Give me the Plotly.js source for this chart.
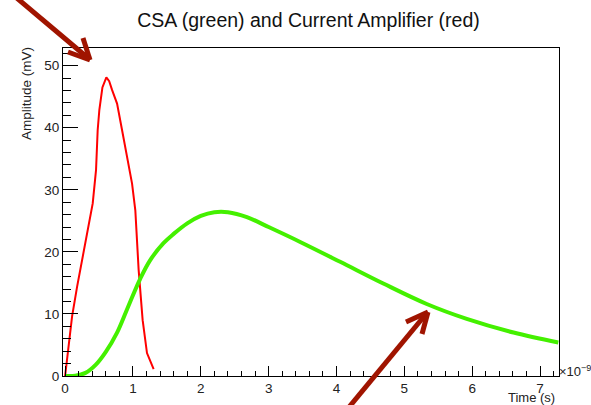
<!DOCTYPE html>
<html>
<head>
<meta charset="utf-8">
<script src="https://cdn.plot.ly/plotly-3.0.1.min.js"></script>
<style>html,body{margin:0;padding:0;background:#fff;}#chart{width:591px;height:405px;}</style>
</head>
<body>
<div id="chart"></div>
<script>
// Time in units of 1e-9 s, amplitude in mV
const redTime = [0.0, 0.053, 0.103, 0.177, 0.25, 0.324, 0.373, 0.407, 0.456, 0.48, 0.505, 0.55, 0.608, 0.65, 0.692, 0.766, 0.84, 0.913, 0.987, 1.035, 1.084, 1.143, 1.207, 1.305];
const redAmp  = [0.0, 4.7, 9.6, 14.4, 18.7, 23.0, 25.4, 27.8, 33.2, 39.6, 42.9, 46.5, 48.1, 47.5, 46.1, 43.9, 39.6, 35.3, 31.0, 26.7, 17.1, 9.0, 3.7, 1.1];
const greenTime = [0.0, 0.15, 0.3, 0.45, 0.6, 0.766, 0.9, 1.0, 1.1, 1.25, 1.45, 1.6, 1.8, 2.0, 2.2, 2.4, 2.68, 3.0, 3.465, 4.054, 4.69, 5.33, 5.92, 6.61, 7.27];
const greenAmp  = [0.0, 0.05, 0.5, 1.8, 3.9, 7.0, 10.4, 13.0, 15.5, 18.6, 21.4, 22.9, 24.6, 25.8, 26.4, 26.4, 25.6, 24.0, 21.6, 18.4, 14.9, 11.6, 9.2, 7.0, 5.4];
const xTickVals = [0, 1, 2, 3, 4, 5, 6, 7];
const yTickVals = [0, 10, 20, 30, 40, 50];

const W = 591, H = 405;
const M = {l: 63, r: 32, t: 48, b: 29};
const pw = W - M.l - M.r, ph = H - M.t - M.b;
function px(x){ return (x - M.l) / pw; }
function py(y){ return (H - M.b - y) / ph; }
function seg(x1,y1,x2,y2){ return 'M' + px(x1) + ',' + py(y1) + ' L' + px(x2) + ',' + py(y2); }
const arrowColor = '#a01400';
function arrowShape(path){ return {type:'path', xref:'paper', yref:'paper', path:path, line:{color:arrowColor, width:5}, layer:'above'}; }

const font = 'Liberation Sans, Arial, Helvetica, sans-serif';

const traces = [
  {x: redTime, y: redAmp, type:'scatter', mode:'lines', line:{color:'#ff0000', width:2}, hoverinfo:'skip'},
  {x: greenTime, y: greenAmp, type:'scatter', mode:'lines', line:{color:'#44f000', width:4, shape:'spline', smoothing:1}, hoverinfo:'skip'}
];

const layout = {
  width: W, height: H,
  margin: M,
  paper_bgcolor:'#ffffff', plot_bgcolor:'#ffffff',
  showlegend:false,
  font:{family:font, color:'#222', size:13},
  title:{text:'CSA (green) and Current Amplifier (red)', x:0.522, xanchor:'center', y:0.951, yanchor:'middle', font:{family:font, size:19.5, color:'#111'}},
  xaxis:{
    range:[-0.031, 7.28], showgrid:false, zeroline:false,
    showline:true, linecolor:'#000', linewidth:1, mirror:true,
    tickmode:'array', tickvals:xTickVals, ticktext:xTickVals.map(String),
    ticks:'inside', ticklen:10, tickcolor:'#000', tickwidth:1,
    minor:{dtick:0.2, ticks:'inside', ticklen:5, tickcolor:'#000', tickwidth:1, showgrid:false},
    tickfont:{size:13.5, color:'#222'}
  },
  yaxis:{
    range:[0, 52.85], showgrid:false, zeroline:false,
    showline:true, linecolor:'#000', linewidth:1, mirror:true,
    tickmode:'array', tickvals:yTickVals, ticktext:yTickVals.map(String),
    ticks:'inside', ticklen:15, tickcolor:'#000', tickwidth:1,
    minor:{dtick:2, ticks:'inside', ticklen:8, tickcolor:'#000', tickwidth:1, showgrid:false},
    tickfont:{size:13.5, color:'#222'}
  },
  annotations:[
    {text:'Amplitude (mV)', xref:'paper', yref:'paper', x:px(26), y:py(94), textangle:-90, showarrow:false, xanchor:'center', yanchor:'middle', font:{family:font, size:13.5, color:'#222'}},
    {text:'Time (s)', xref:'paper', yref:'paper', x:px(557), y:py(397.5), showarrow:false, xanchor:'right', yanchor:'middle', font:{family:font, size:13, color:'#222'}},
    {text:'×10<sup>−9</sup>', xref:'paper', yref:'paper', x:px(557), y:py(371), showarrow:false, xanchor:'left', yanchor:'middle', font:{family:font, size:13, color:'#222'}}
  ],
  shapes:[
    arrowShape(seg(12,-6,88,58)),
    arrowShape(seg(83,38,90,60)),
    arrowShape(seg(68,52,90,60)),
    arrowShape(seg(345,412,426,314)),
    arrowShape(seg(406,322,428,312)),
    arrowShape(seg(422,334,428,312))
  ]
};

Plotly.newPlot('chart', traces, layout, {staticPlot:true, displayModeBar:false});
</script>
</body>
</html>
